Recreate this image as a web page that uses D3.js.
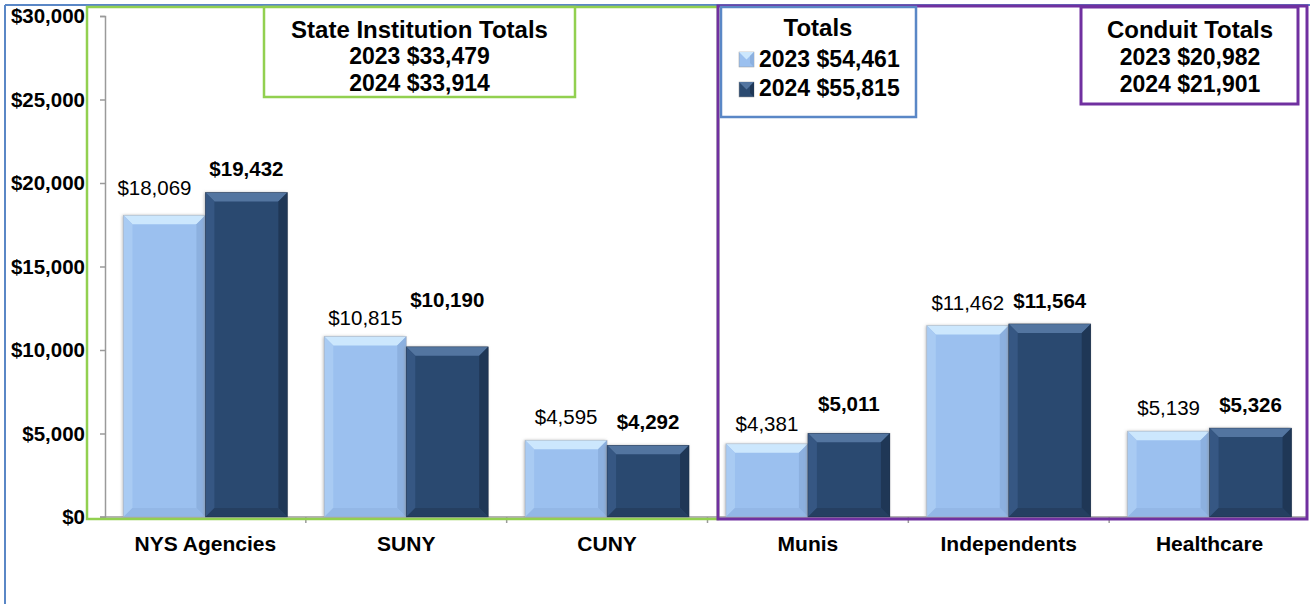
<!doctype html>
<html>
<head>
<meta charset="utf-8">
<style>
    body { margin: 0; background: #fff; }
    svg { display: block; font-family: "Liberation Sans", Arial, sans-serif; }
</style>
<script src="https://d3js.org/d3.v7.min.js"></script>
</head>
<body>
<svg width="1310" height="604"></svg>
<script>
// data
var categories = ["NYS Agencies", "SUNY", "CUNY", "Munis", "Independents", "Healthcare"];
var years = ["2023", "2024"];
var values2023 = [18069, 10815, 4595, 4381, 11462, 5139];
var values2024 = [19432, 10190, 4292, 5011, 11564, 5326];
var yTicks = [0, 5000, 10000, 15000, 20000, 25000, 30000];
var stateGroup = ["NYS Agencies", "SUNY", "CUNY"];
var conduitGroup = ["Munis", "Independents", "Healthcare"];

var svg = d3.select("svg");
var fmt = d3.format("$,");

var x0 = d3.scaleBand().domain(categories).range([105, 1310]).paddingInner(0).paddingOuter(0);
var x1 = d3.scaleBand().domain(years).range([0, x0.bandwidth()]).paddingInner(0).paddingOuter(0.225);
var y = d3.scaleLinear().domain([0, 30000]).range([517, 16]);

var rows = categories.map(function(c, i) {
    return { cat: c, vals: [ { year: "2023", v: values2023[i] }, { year: "2024", v: values2024[i] } ] };
});

var sumOf = function(arr, group) {
    return d3.sum(categories.map(function(c, i) { return group.indexOf(c) >= 0 ? arr[i] : 0; }));
};

// colours for bevelled bars
var pal = {
    "2023": { base: "#9bc0ef", top: "#cce7fd", left: "#a9cbf3", right: "#8cb0df", bottom: "#93b7e6", edge: "#a8a8a8" },
    "2024": { base: "#2b4a70", top: "#5375a0", left: "#365783", right: "#1f3756", bottom: "#253f61", edge: "#1a2a40" }
};

var defs = svg.append("defs");
var f = defs.append("filter").attr("id", "shadow").attr("x", "-10%").attr("y", "-10%").attr("width", "130%").attr("height", "120%");
f.append("feDropShadow").attr("dx", -1).attr("dy", 0).attr("stdDeviation", 1.5).attr("flood-color", "#888").attr("flood-opacity", 0.6);

// outer blue frame
svg.append("line").attr("x1", 5).attr("x2", 5).attr("y1", 5).attr("y2", 604).attr("stroke", "#5a87c6").attr("stroke-width", 2);
svg.append("line").attr("x1", 5).attr("x2", 1310).attr("y1", 5).attr("y2", 5).attr("stroke", "#5a87c6").attr("stroke-width", 2);

// y axis
var yAxis = svg.append("g").attr("transform", "translate(105,0)")
    .call(d3.axisLeft(y).tickValues(yTicks).tickSize(5).tickPadding(15).tickFormat(fmt));
yAxis.select(".domain").attr("stroke", "#9a9a9a").attr("stroke-width", 1.5);
yAxis.selectAll(".tick line").attr("stroke", "#9a9a9a").attr("stroke-width", 1.5);
yAxis.selectAll("text").attr("font-size", 20.5).attr("font-weight", "bold").attr("fill", "#000")
    .attr("font-family", "Liberation Sans, Arial, sans-serif");

// x axis
var xAxis = svg.append("g").attr("transform", "translate(0,517)")
    .call(d3.axisBottom(x0).tickSize(0).tickPadding(19));
xAxis.select(".domain").attr("stroke", "#9a9a9a").attr("stroke-width", 1.5).attr("d", "M100,0H1308");
xAxis.selectAll("text").attr("font-size", 21).attr("font-weight", "bold").attr("fill", "#000")
    .attr("font-family", "Liberation Sans, Arial, sans-serif");
svg.append("g").selectAll("line").data(categories.slice(1)).enter().append("line")
    .attr("x1", function(d) { return x0(d); }).attr("x2", function(d) { return x0(d); })
    .attr("y1", 517).attr("y2", 523).attr("stroke", "#9a9a9a").attr("stroke-width", 1.5);

// bars with bevel
var groups = svg.append("g").selectAll("g").data(rows).enter().append("g")
    .attr("transform", function(d) { return "translate(" + x0(d.cat) + ",0)"; });

var bars = groups.selectAll("g.bar").data(function(d) { return d.vals; }).enter().append("g").attr("class", "bar");

bars.each(function(d) {
    var g = d3.select(this), c = pal[d.year];
    var bx = x1(d.year), bw = x1.bandwidth(), by = y(d.v), bh = y(0) - y(d.v);
    var b = Math.min(9, bh / 2);
    g.append("rect").attr("x", bx).attr("y", by).attr("width", bw).attr("height", bh)
        .attr("fill", c.base).attr("filter", "url(#shadow)");
    var poly = function(pts, fill) {
        g.append("polygon").attr("points", pts.map(function(p) { return p.join(","); }).join(" ")).attr("fill", fill);
    };
    poly([[bx, by], [bx + bw, by], [bx + bw - b, by + b], [bx + b, by + b]], c.top);
    poly([[bx, by], [bx + b, by + b], [bx + b, by + bh - b], [bx, by + bh]], c.left);
    poly([[bx + bw, by], [bx + bw, by + bh], [bx + bw - b, by + bh - b], [bx + bw - b, by + b]], c.right);
    poly([[bx, by + bh], [bx + b, by + bh - b], [bx + bw - b, by + bh - b], [bx + bw, by + bh]], c.bottom);
    g.append("rect").attr("x", bx).attr("y", by).attr("width", bw).attr("height", bh)
        .attr("fill", "none").attr("stroke", c.edge).attr("stroke-width", 0.6).attr("stroke-opacity", 0.6);
});

// value labels (a few sit higher/lower in the original)
var nudge = { "NYS Agencies|2023": 4, "SUNY|2023": -5, "SUNY|2024": 24, "Munis|2023": -3, "Munis|2024": 6 };
groups.selectAll("text.val").data(function(d) { return d.vals.map(function(v) { return { cat: d.cat, year: v.year, v: v.v }; }); })
    .enter().append("text").attr("class", "val")
    .attr("x", function(d) { return x1(d.year) + x1.bandwidth() / 2 - (d.cat === "NYS Agencies" && d.year === "2023" ? 10 : 0); })
    .attr("y", function(d) { return y(d.v) - 16 - (nudge[d.cat + "|" + d.year] || 0); })
    .attr("text-anchor", "middle").attr("font-size", 20.5)
    .attr("font-weight", function(d) { return d.year === "2024" ? "bold" : "normal"; })
    .text(function(d) { return fmt(d.v); });

// group frames
svg.append("rect").attr("x", 87).attr("y", 7).attr("width", 631).attr("height", 512)
    .attr("fill", "none").attr("stroke", "#92d050").attr("stroke-width", 2.5);
svg.append("rect").attr("x", 718).attr("y", 6).attr("width", 589).attr("height", 513)
    .attr("fill", "none").attr("stroke", "#7030a0").attr("stroke-width", 3);

// text boxes
function box(x, yy, w, h, stroke, sw) {
    svg.append("rect").attr("x", x).attr("y", yy).attr("width", w).attr("height", h)
        .attr("fill", "#fff").attr("stroke", stroke).attr("stroke-width", sw);
}
function line(txt, x, yy, anchor, size) {
    svg.append("text").attr("x", x).attr("y", yy).attr("text-anchor", anchor || "middle")
        .attr("font-size", size || 23).attr("font-weight", "bold").text(txt);
}

box(264, 7, 311, 90, "#92d050", 2.5);
line("State Institution Totals", 419.5, 38, "middle", 24);
line("2023 " + fmt(sumOf(values2023, stateGroup)), 419.5, 64);
line("2024 " + fmt(sumOf(values2024, stateGroup)), 419.5, 91);

box(721, 7, 195, 110, "#5a87c6", 2.5);
line("Totals", 818, 36, "middle", 24);
line("2023 " + fmt(d3.sum(values2023)), 759, 67, "start");
line("2024 " + fmt(d3.sum(values2024)), 759, 96, "start");
// legend swatches
[["2023", 52], ["2024", 82]].forEach(function(s) {
    var c = pal[s[0]], sx = 739, sy = s[1], sz = 15, b = 4;
    svg.append("rect").attr("x", sx).attr("y", sy).attr("width", sz).attr("height", sz).attr("fill", c.base)
        .attr("stroke", "#999").attr("stroke-width", 0.5);
    svg.append("polygon").attr("points", [[sx, sy], [sx + sz, sy], [sx + sz / 2, sy + sz / 2]].join(" ")).attr("fill", c.top);
    svg.append("polygon").attr("points", [[sx + sz, sy], [sx + sz, sy + sz], [sx + sz - b, sy + sz - b], [sx + sz - b, sy + b]].join(" ")).attr("fill", c.right);
});

box(1081, 7, 217, 97, "#7030a0", 3);
line("Conduit Totals", 1190, 38, "middle", 24);
line("2023 " + fmt(sumOf(values2023, conduitGroup)), 1190, 65);
line("2024 " + fmt(sumOf(values2024, conduitGroup)), 1190, 92);
</script>
</body>
</html>
